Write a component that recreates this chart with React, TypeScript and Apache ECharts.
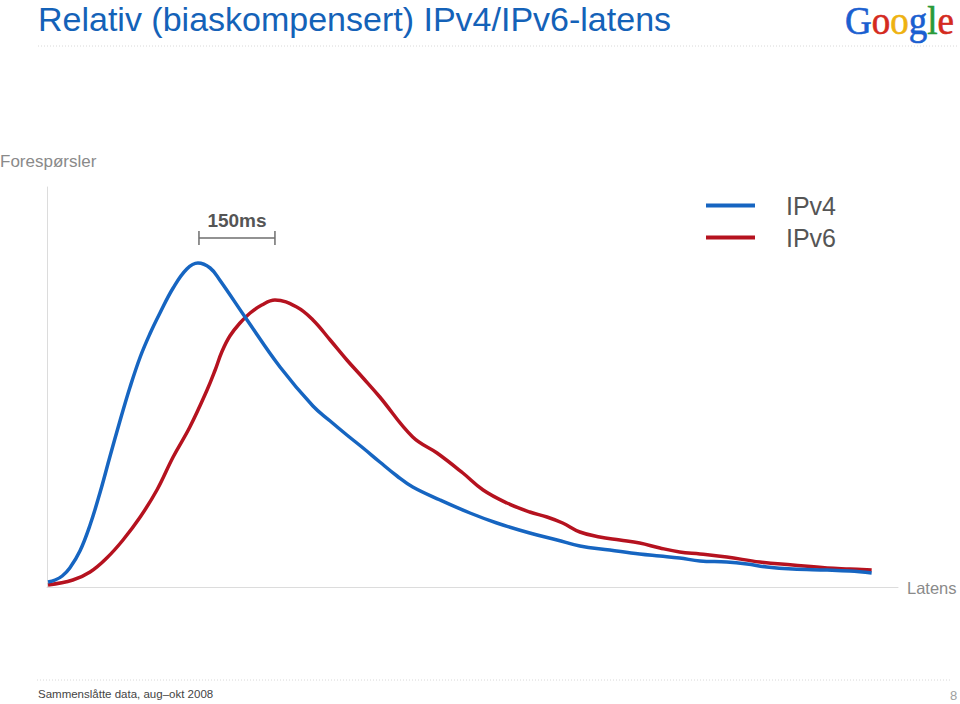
import React, { useEffect, useRef } from "react";
import * as echarts from "echarts";

// Latency (ms) and relative request counts
const ipv4Latency = [2, 16, 30, 45, 65, 85, 105, 124, 144, 164, 184, 203, 223, 249, 276, 298, 322, 341, 395, 460, 525, 559, 592, 624, 657, 691, 722, 776, 835, 888, 953, 1007, 1052, 1111, 1170, 1210, 1249, 1289, 1342, 1382, 1421, 1472, 1540, 1585, 1628];
const ipv4Requests = [5, 7, 11, 19, 36, 62, 95, 130, 166, 200, 230, 253, 274, 299, 318, 324, 319, 307, 267, 220, 181, 166, 152, 139, 125, 111, 100, 87, 74, 64, 54, 47, 41, 37, 33, 31, 29, 26, 25, 23, 20, 18, 17, 16, 14];

const ipv6Latency = [2, 51, 85, 118, 150, 184, 217, 249, 282, 316, 332, 345, 361, 381, 401, 424, 450, 493, 525, 559, 592, 624, 657, 722, 770, 821, 861, 908, 953, 987, 1018, 1052, 1091, 1131, 1170, 1210, 1249, 1289, 1342, 1407, 1472, 1540, 1585, 1628];
const ipv6Requests = [2, 7, 15, 29, 47, 70, 97, 130, 160, 197, 217, 235, 251, 264, 274, 282, 287, 280, 267, 247, 227, 209, 190, 150, 134, 114, 97, 84, 75, 70, 64, 55, 50, 47, 44, 39, 35, 33, 30, 25, 22, 19, 18, 17];

const seriesNames = ["IPv4", "IPv6"];
const spanStart = 300;
const spanEnd = 450;
const spanLevel = 349;
const spanLabel = "150ms";

const titleText = "Relativ (biaskompensert) IPv4/IPv6-latens";
const yName = "Forespørsler";
const xName = "Latens";
const footerText = "Sammenslåtte data, aug–okt 2008";
const pageNumber = "8";
const logoLetters = ["G", "o", "o", "g", "l", "e"];
const logoColors = ["#1a5fd0", "#d42a1e", "#eeb211", "#1a5fd0", "#2a9a3a", "#d42a1e"];

export default function App() {
  const ref = useRef<HTMLDivElement>(null);
  useEffect(() => {
    document.body.style.margin = "0";
    const chart = echarts.init(ref.current!, null, { renderer: "svg" });
    const blue = "#1665c1";
    const red = "#b5121f";
    const zip = (xs: number[], ys: number[]) => xs.map((x, i) => [x, ys[i]]);
    chart.setOption({
      animation: false,
      backgroundColor: "#ffffff",
      grid: { left: 47, top: 187, width: 851, height: 400, containLabel: false },
      xAxis: {
        type: "value",
        min: 0,
        max: 1680,
        axisLine: { show: true, lineStyle: { color: "#dcdcdc", width: 1 } },
        axisTick: { show: false },
        axisLabel: { show: false },
        splitLine: { show: false },
      },
      yAxis: {
        type: "value",
        min: 0,
        max: 400,
        axisLine: { show: true, lineStyle: { color: "#dcdcdc", width: 1 } },
        axisTick: { show: false },
        axisLabel: { show: false },
        splitLine: { show: false },
      },
      legend: {
        orient: "vertical",
        left: 706,
        top: 193,
        padding: 0,
        icon: "rect",
        itemWidth: 49,
        itemHeight: 4,
        itemGap: 7,
        textStyle: {
          fontFamily: "Liberation Sans, Arial, sans-serif",
          fontSize: 25,
          color: "#555555",
          padding: [0, 0, 0, 26],
          lineHeight: 24,
        },
        data: seriesNames,
      },
      series: [
        {
          name: seriesNames[0],
          type: "line",
          data: zip(ipv4Latency, ipv4Requests),
          smooth: 0.4,
          showSymbol: false,
          lineStyle: { color: blue, width: 3.5 },
          itemStyle: { color: blue },
          z: 3,
        },
        {
          name: seriesNames[1],
          type: "line",
          data: zip(ipv6Latency, ipv6Requests),
          smooth: 0.4,
          showSymbol: false,
          lineStyle: { color: red, width: 3.5 },
          itemStyle: { color: red },
          z: 2,
        },
      ],
    });

    const p1 = chart.convertToPixel({ gridIndex: 0 }, [spanStart, spanLevel]) as number[];
    const p2 = chart.convertToPixel({ gridIndex: 0 }, [spanEnd, spanLevel]) as number[];
    const gray = "#6e6e6e";

    // Google logo letters, laid out by measured widths
    const logoFont = '37px "Liberation Serif", serif';
    const ctx = document.createElement("canvas").getContext("2d")!;
    ctx.font = logoFont;
    let lx = 845;
    const logoEls: any[] = logoLetters.map((ch, i) => {
      const el = {
        type: "text",
        x: lx,
        y: 1,
        scaleY: 1.08,
        style: {
          text: ch,
          font: logoFont,
          fill: logoColors[i],
          stroke: logoColors[i],
          lineWidth: 0.6,
        },
      };
      lx += ctx.measureText(ch).width;
      return el;
    });

    chart.setOption({
      graphic: [
        {
          type: "text",
          left: 38,
          top: 2,
          style: {
            text: titleText,
            fontFamily: "Liberation Sans, Arial, sans-serif",
            fontSize: 34,
            fill: "#1462b8",
          },
        },
        ...logoEls,
        {
          type: "line",
          shape: { x1: 38, y1: 46, x2: 958, y2: 46 },
          style: { stroke: "#d8d8d8", lineWidth: 1, lineDash: [1, 2] },
        },
        {
          type: "line",
          shape: { x1: 37, y1: 680, x2: 950, y2: 680 },
          style: { stroke: "#d8d8d8", lineWidth: 1, lineDash: [1, 2] },
        },
        {
          type: "text",
          left: 0,
          top: 153,
          style: {
            text: yName,
            fontFamily: "Liberation Sans, Arial, sans-serif",
            fontSize: 17,
            fill: "#8a8a8a",
          },
        },
        {
          type: "text",
          left: 907,
          top: 579,
          style: {
            text: xName,
            fontFamily: "Liberation Sans, Arial, sans-serif",
            fontSize: 16.5,
            fill: "#8a8a8a",
          },
        },
        {
          type: "text",
          left: 38,
          top: 688,
          style: {
            text: footerText,
            fontFamily: "Liberation Sans, Arial, sans-serif",
            fontSize: 11.5,
            fill: "#444444",
          },
        },
        {
          type: "text",
          left: 950,
          top: 689,
          style: {
            text: pageNumber,
            fontFamily: "Liberation Sans, Arial, sans-serif",
            fontSize: 13,
            fill: "#a0a0a0",
          },
        },
        {
          type: "line",
          shape: { x1: p1[0], y1: p1[1], x2: p2[0], y2: p2[1] },
          style: { stroke: gray, lineWidth: 1.5 },
        },
        {
          type: "line",
          shape: { x1: p1[0], y1: p1[1] - 7, x2: p1[0], y2: p1[1] + 7 },
          style: { stroke: gray, lineWidth: 1.5 },
        },
        {
          type: "line",
          shape: { x1: p2[0], y1: p2[1] - 7, x2: p2[0], y2: p2[1] + 7 },
          style: { stroke: gray, lineWidth: 1.5 },
        },
        {
          type: "text",
          x: (p1[0] + p2[0]) / 2,
          y: p1[1] - 18,
          style: {
            text: spanLabel,
            fontFamily: "Liberation Sans, Arial, sans-serif",
            fontSize: 19,
            fontWeight: "bold",
            fill: "#555555",
            align: "center",
            verticalAlign: "middle",
          },
        },
      ],
    });
    return () => chart.dispose();
  }, []);
  return <div ref={ref} style={{ width: 960, height: 704 }} />;
}
